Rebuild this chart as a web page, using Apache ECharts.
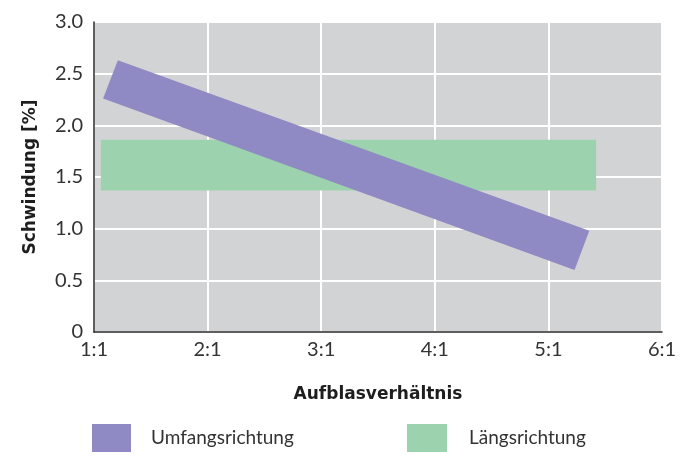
<!DOCTYPE html>
<html>
<head>
<meta charset="utf-8">
<script src="https://cdn.jsdelivr.net/npm/echarts@6/dist/echarts.min.js"></script>
<style>
  html, body { margin: 0; padding: 0; background: #ffffff; }
  #chart { width: 686px; height: 469px; }
</style>
</head>
<body>
<div id="chart"></div>
<script>
// Blow-up ratio categories (x = 1 means 1:1)
const ratioTicks = [1, 2, 3, 4, 5, 6];
const ratioLabels = ['1:1', '2:1', '3:1', '4:1', '5:1', '6:1'];

// Shrinkage band in circumferential direction: corner points (ratio, %)
const umfangX = [1.08, 1.21, 5.36, 5.23];
const umfangY = [2.26, 2.63, 0.98, 0.60];

// Shrinkage band in longitudinal direction: ratio range and % range
const laengsX = [1.06, 5.42];
const laengsY = [1.37, 1.86];

const seriesNames = ['Umfangsrichtung', 'Längsrichtung'];
const purple = '#8f8ac3';
const green = '#9cd3ae';
const font = 'Lato, "Noto Sans", sans-serif';
const titleFont = '"DejaVu Sans", sans-serif';

const chart = echarts.init(document.getElementById('chart'));

function polygonItem(xs, ys, color) {
  return function (params, api) {
    if (params.dataIndex !== 0) return null;
    const pts = xs.map((x, i) => api.coord([x, ys[i]]));
    return { type: 'polygon', shape: { points: pts }, style: { fill: color } };
  };
}

const laengsPolyX = [laengsX[0], laengsX[1], laengsX[1], laengsX[0]];
const laengsPolyY = [laengsY[0], laengsY[0], laengsY[1], laengsY[1]];

chart.setOption({
  animation: false,
  grid: {
    left: 94, right: 24, top: 22, bottom: 137,
    show: true, backgroundColor: '#d2d3d5', borderWidth: 0
  },
  legend: [
    {
      data: [seriesNames[0]], left: 92, top: 424, padding: 0,
      icon: 'rect', itemWidth: 39, itemHeight: 28,
      textStyle: { fontFamily: font, fontSize: 19, color: '#333', padding: [0, 0, 0, 15] }
    },
    {
      data: [seriesNames[1]], left: 407, top: 424, padding: 0,
      icon: 'rect', itemWidth: 40, itemHeight: 28,
      textStyle: { fontFamily: font, fontSize: 19, color: '#333', padding: [0, 0, 0, 17] }
    }
  ],
  xAxis: {
    type: 'value', min: 1, max: 6, interval: 1,
    name: 'Aufblasverhältnis', nameLocation: 'middle', nameGap: 54,
    nameTextStyle: { fontFamily: titleFont, fontSize: 17, fontWeight: 'bold', color: '#1e1e1e' },
    axisLine: { show: true, lineStyle: { color: '#2a2a2a', width: 1.5 } },
    axisTick: { show: false },
    axisLabel: {
      margin: 8, fontFamily: font, fontSize: 20, color: '#333',
      formatter: v => ratioLabels[ratioTicks.indexOf(v)] || ''
    },
    splitLine: { show: true, lineStyle: { color: '#ffffff', width: 2 } }
  },
  yAxis: {
    type: 'value', min: 0, max: 3, interval: 0.5,
    name: 'Schwindung [%]', nameLocation: 'middle', nameGap: 55, nameRotate: 90,
    nameTextStyle: { fontFamily: titleFont, fontSize: 17, fontWeight: 'bold', color: '#1e1e1e' },
    axisLine: { show: true, lineStyle: { color: '#2a2a2a', width: 1.5 } },
    axisTick: { show: false },
    axisLabel: {
      margin: 11, fontFamily: font, fontSize: 20, color: '#333',
      formatter: v => (v === 0 ? '0' : v.toFixed(1))
    },
    splitLine: { show: true, lineStyle: { color: '#ffffff', width: 2 } }
  },
  series: [
    {
      name: seriesNames[1], type: 'custom', clip: true,
      itemStyle: { color: green },
      data: laengsPolyX.map((x, i) => [x, laengsPolyY[i]]),
      encode: { x: 0, y: 1 },
      renderItem: polygonItem(laengsPolyX, laengsPolyY, green),
      z: 2
    },
    {
      name: seriesNames[0], type: 'custom', clip: true,
      itemStyle: { color: purple },
      data: umfangX.map((x, i) => [x, umfangY[i]]),
      encode: { x: 0, y: 1 },
      renderItem: polygonItem(umfangX, umfangY, purple),
      z: 3
    }
  ]
});
</script>
</body>
</html>
